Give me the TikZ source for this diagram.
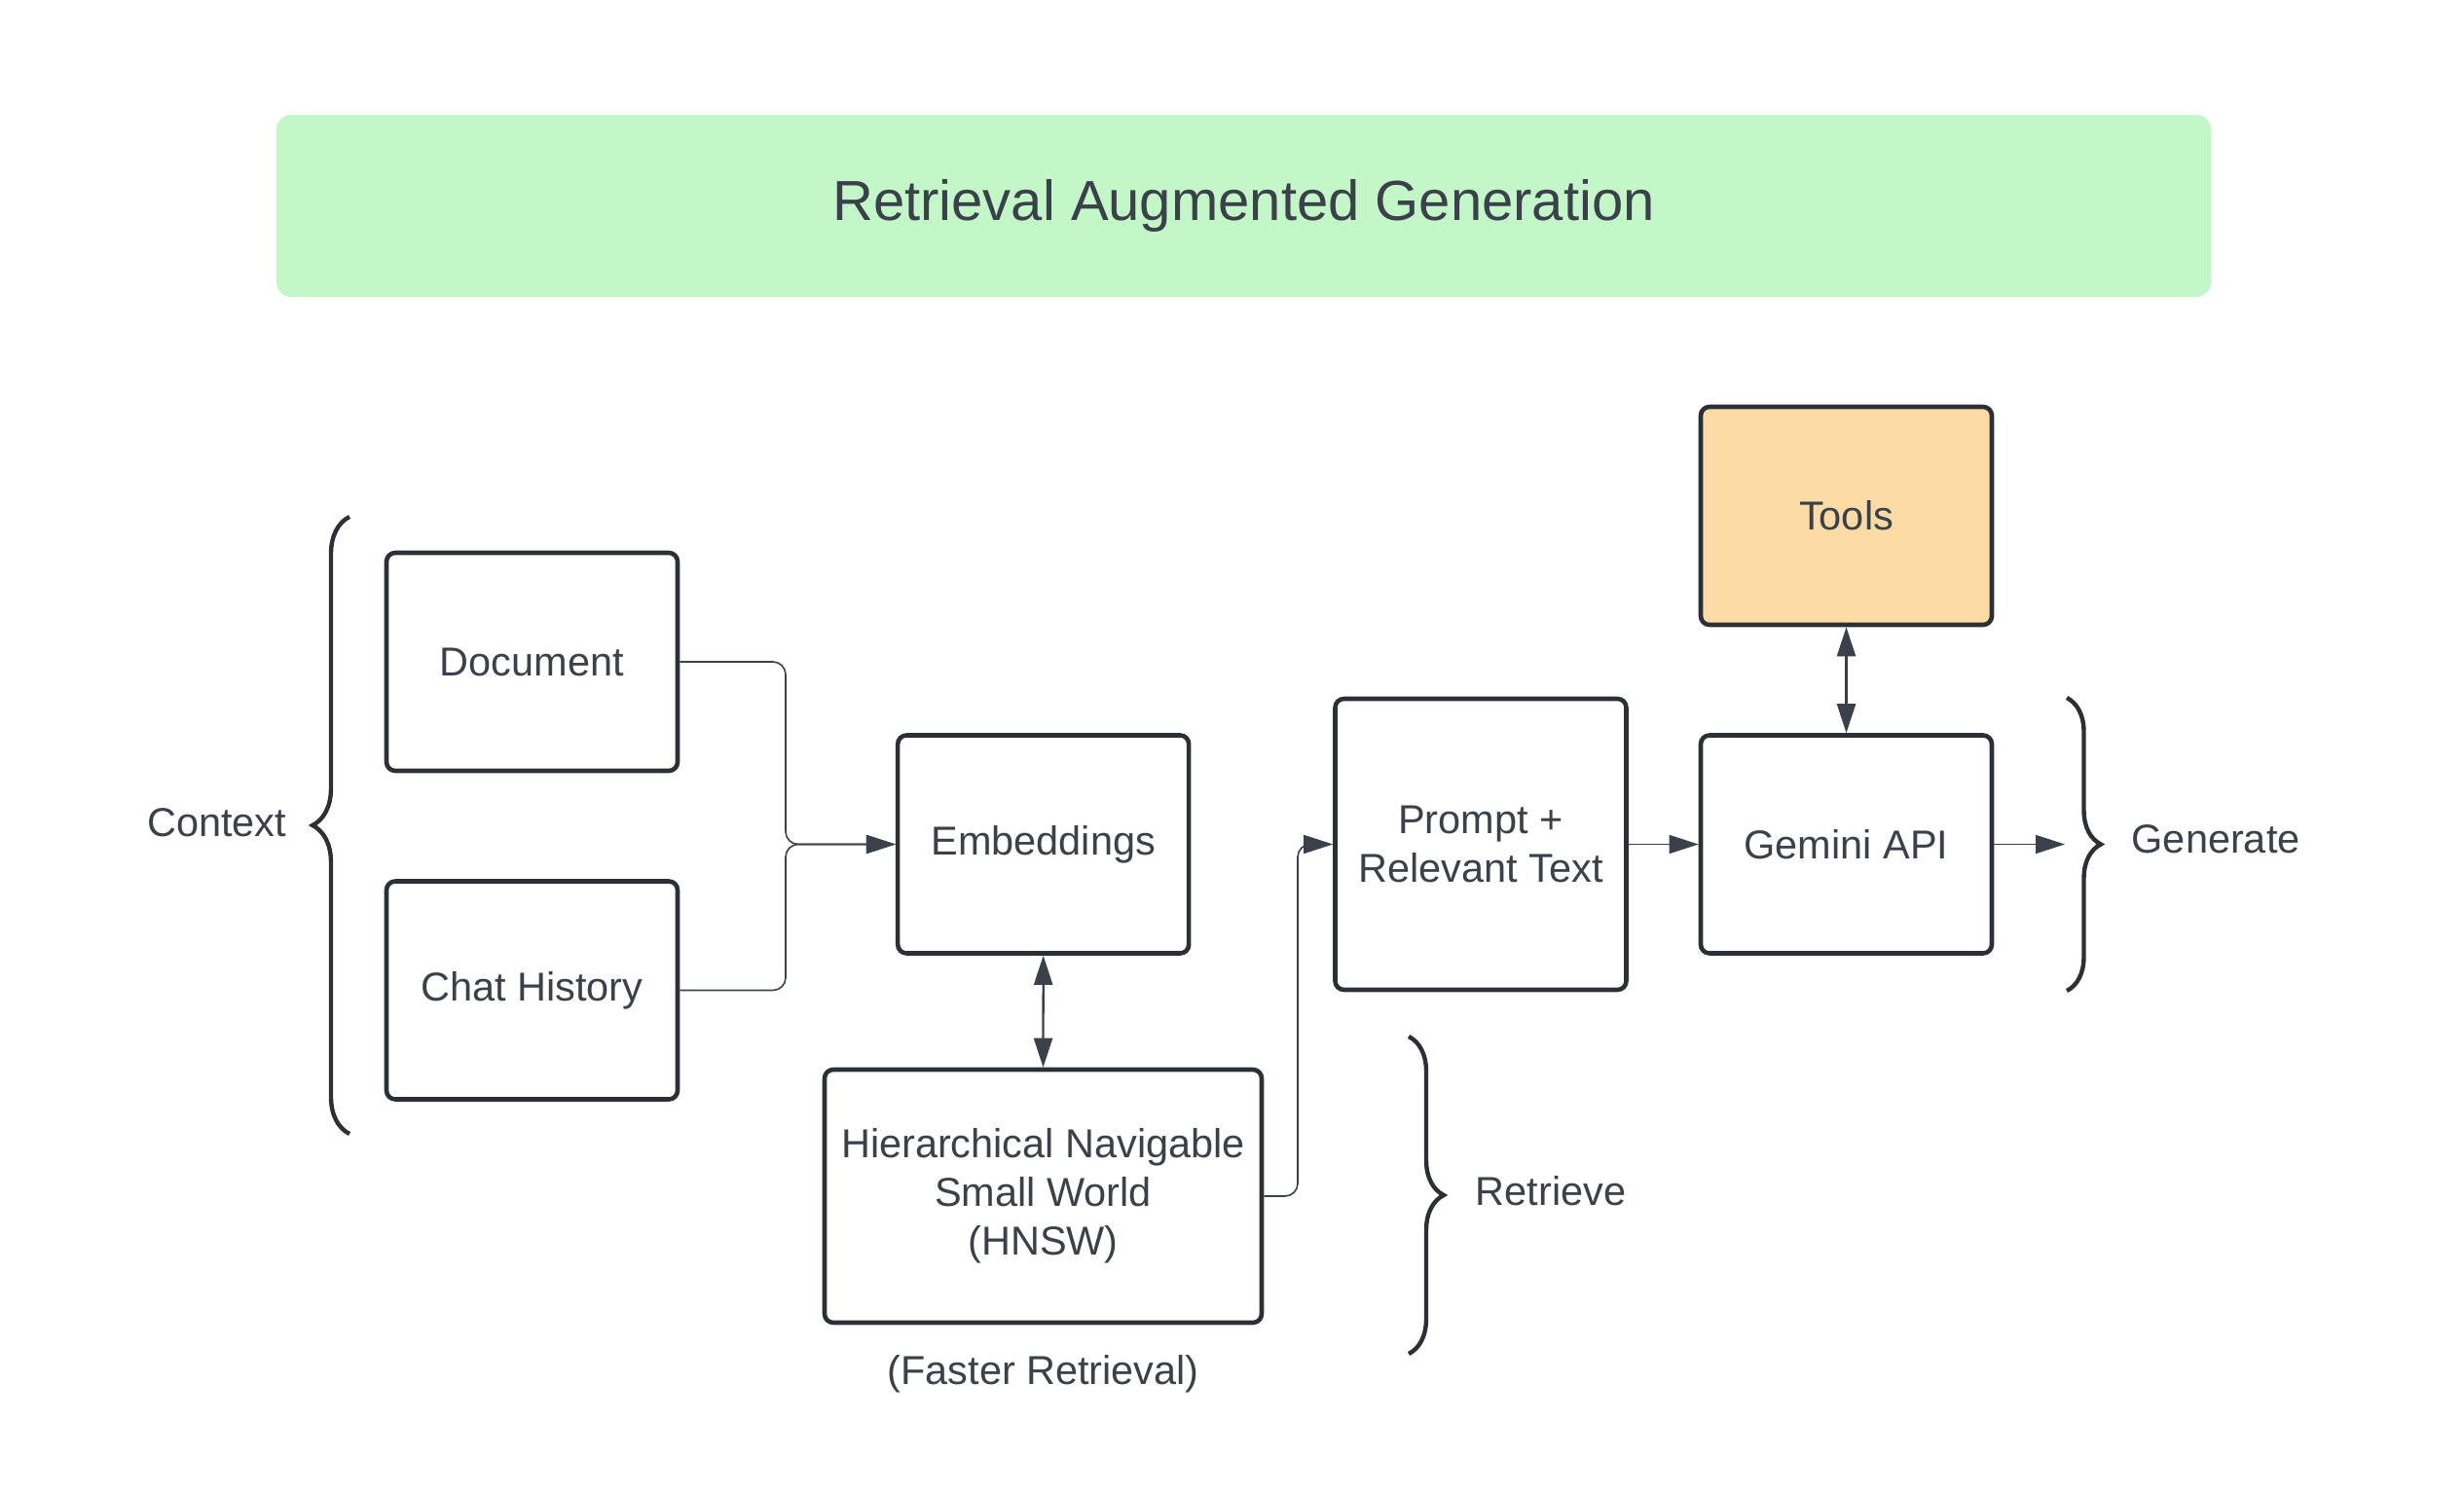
\documentclass[tikz,border=0pt]{standalone}
\usepackage{fontspec}
\setmainfont{Liberation Sans}
\usepackage{xcolor}
\usepackage{tikz}
\usetikzlibrary{arrows.meta}
\usetikzlibrary{positioning, calc, decorations.pathreplacing}
\definecolor{ink}{HTML}{3A414A}
\definecolor{edge}{HTML}{2B2F36}
\definecolor{titlegreen}{HTML}{C3F7C8}
\definecolor{toolsorange}{HTML}{FDDBA4}

\begin{document}
\begin{tikzpicture}[
    font=\fontsize{11.8}{14.2}\selectfont, text=ink,
    box/.style={draw=edge, line width=1.3pt, rounded corners=0.09cm,
        minimum width=2.99cm, minimum height=2.24cm, inner sep=0pt, align=center},
    conn/.style={draw=ink, line width=0.45pt, rounded corners=0.13cm,
        -{Triangle[length=0.30cm,width=0.19cm]}},
    twoway/.style={draw=ink, line width=0.65pt,
        {Triangle[length=0.30cm,width=0.19cm]}-{Triangle[length=0.30cm,width=0.19cm]}},
    curly/.style={draw=edge, line width=1.25pt, decorate,
        decoration={brace, amplitude=0.36cm}},
    lbl/.style={inner sep=0pt}
    ]
    \useasboundingbox (0,0) rectangle (25.31,15.32);

    % TITLE BAR
    \node[fill=titlegreen, rounded corners=0.15cm, minimum width=19.87cm,
        minimum height=1.87cm, font=\fontsize{16.5}{20}\selectfont]
        (title) at (12.775,13.205) {Retrieval Augmented Generation};

    % BOXES
    \foreach \n/\x/\y/\t in {
        doc/5.465/8.52/Document,
        chat/5.465/5.145/Chat History,
        emb/10.717/6.645/Embeddings,
        gemini/18.965/6.645/Gemini API}
        \node[box] (\n) at (\x,\y) {\t};
    \node[box, minimum height=2.99cm] (prompt) at (15.21,6.645) {Prompt +\\Relevant Text};
    \node[box, minimum width=4.49cm, minimum height=2.60cm]
        (hnsw) at (10.715,3.03) {Hierarchical Navigable\\Small World\\(HNSW)};
    \node[box, fill=toolsorange] (tools) at (18.965,10.02) {Tools};

    % CONNECTORS
    \coordinate (join) at (8.07,6.645);
    \coordinate (bend) at (13.33,6.645);
    \coordinate (out) at (21.21,6.645);
    \draw[conn] (doc.east) -| (join) -- (emb.west);
    \draw[conn] (chat.east) -| (join) -- (emb.west);
    \draw[conn] (hnsw.east) -| (bend) -- (prompt.west);
    \draw[conn] (prompt.east) -- (gemini.west);
    \draw[conn] (gemini.east) -- (out);
    \draw[twoway] (emb.south) -- (hnsw.north);
    \draw[twoway] (tools.south) -- (gemini.north);

    % BRACES AND LABELS
    \draw[curly, decoration={amplitude=0.38cm}] (3.59,3.67) -- (3.59,10.01);
    \draw[curly, decoration={amplitude=0.35cm}] (21.23,8.15) -- (21.23,5.14);
    \draw[curly] (14.47,4.67) -- (14.47,1.41);
    \node[lbl] (ctx) at (2.227,6.87) {Context};
    \node[lbl, anchor=west] (gen) at (21.89,6.70) {Generate};
    \node[lbl, anchor=west] (ret) at (15.15,3.08) {Retrieve};
    \node (fast) at (10.717,1.20) {(Faster Retrieval)};
\end{tikzpicture}
\end{document}
